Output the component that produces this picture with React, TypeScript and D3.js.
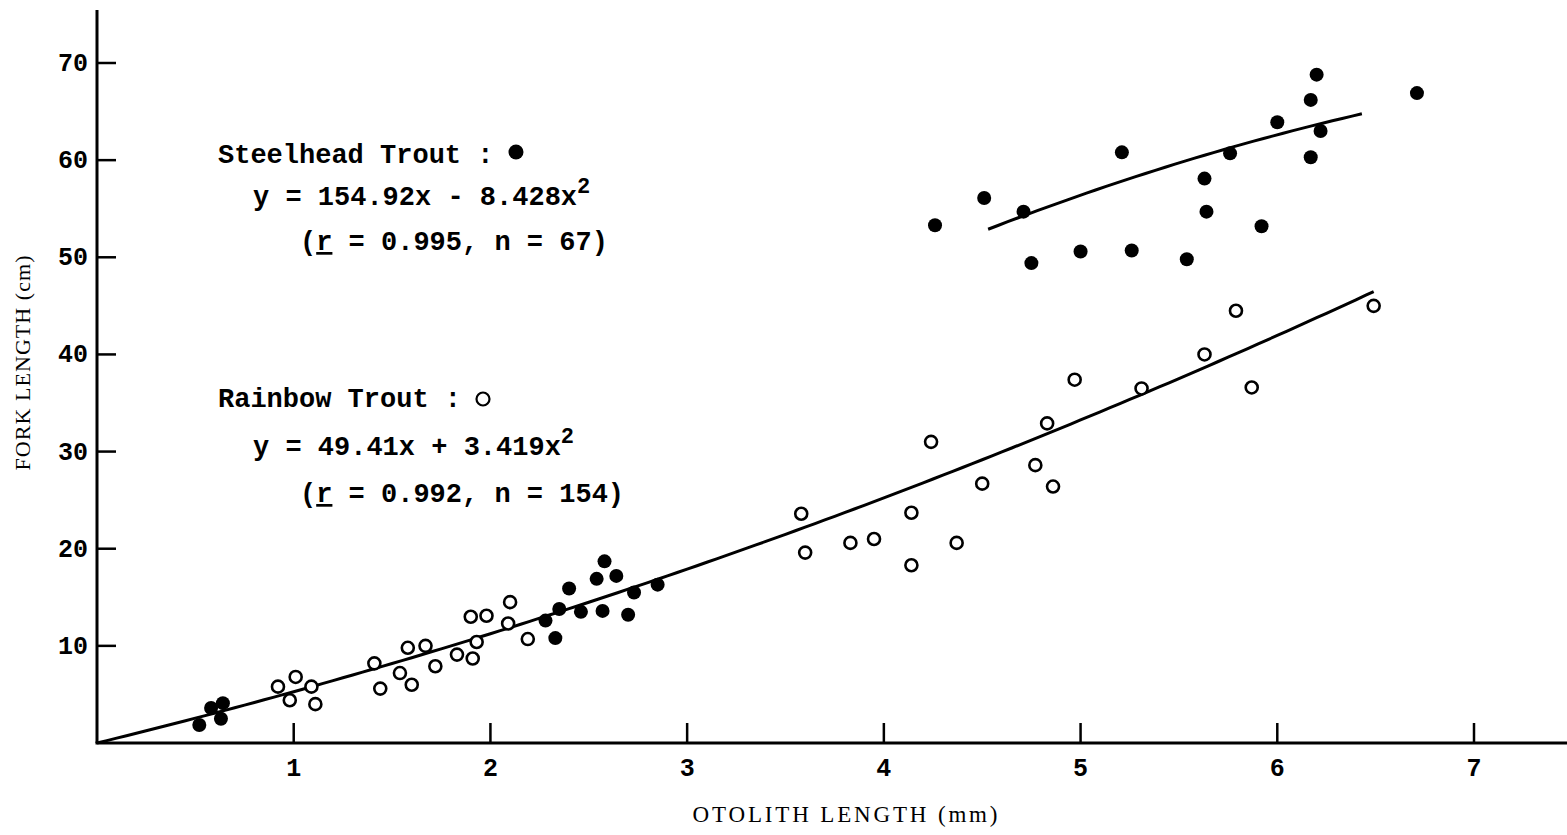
import React from 'react';
import * as d3 from 'd3';

// steelhead trout (filled dots)
const steelheadOtolith = [
  0.52, 0.58, 0.64, 0.63,
  2.28, 2.33, 2.35, 2.4, 2.46, 2.54, 2.57, 2.58, 2.64, 2.7, 2.73, 2.85,
  4.26, 4.51, 4.71, 4.75, 5.0, 5.21, 5.26, 5.54, 5.63, 5.64, 5.76, 5.92, 6.0, 6.17, 6.17, 6.2, 6.22, 6.71,
];
const steelheadFork = [
  1.85, 3.6, 4.1, 2.5,
  12.6, 10.8, 13.8, 15.9, 13.5, 16.9, 13.6, 18.7, 17.2, 13.2, 15.5, 16.3,
  53.3, 56.1, 54.7, 49.4, 50.6, 60.8, 50.7, 49.8, 58.1, 54.7, 60.7, 53.2, 63.9, 66.2, 60.3, 68.8, 63.0, 66.9,
];

// rainbow trout (open circles)
const rainbowOtolith = [
  0.92, 1.01, 1.09, 0.98, 1.11, 1.41, 1.44, 1.58, 1.67, 1.54, 1.6, 1.72, 1.83, 1.91, 1.93, 1.9, 1.98, 2.1, 2.09, 2.19,
  3.58, 3.6, 3.83, 3.95, 4.14, 4.14, 4.24, 4.37, 4.5, 4.83, 4.77, 4.86, 4.97, 5.31, 5.63, 5.79, 5.87, 6.49,
];
const rainbowFork = [
  5.8, 6.8, 5.8, 4.4, 4.0, 8.2, 5.6, 9.8, 10.0, 7.2, 6.0, 7.9, 9.1, 8.7, 10.4, 13.0, 13.1, 14.5, 12.3, 10.7,
  23.6, 19.6, 20.6, 21.0, 23.7, 18.3, 31.0, 20.6, 26.7, 32.9, 28.6, 26.4, 37.4, 36.5, 40.0, 44.5, 36.6, 45.0,
];

// printed regressions, fork length in mm from otolith length in mm
const steelheadCoef = [154.92, -8.428];
const steelheadFitRange = [4.53, 6.43];
const rainbowCoef = [49.41, 3.419];
const rainbowFitRange = [0, 6.49];

const xTicks = [1, 2, 3, 4, 5, 6, 7];
const yTicks = [10, 20, 30, 40, 50, 60, 70];

const W = 1567;
const H = 835;
const mono = '"Liberation Mono", "DejaVu Sans Mono", monospace';
const serif = '"Liberation Serif", "DejaVu Serif", serif';

export default function App() {
  const x = d3.scaleLinear().domain([0, 7]).range([97, 1474]);
  const y = d3.scaleLinear().domain([0, 70]).range([743, 63]);

  // fitted curve in cm
  const fit = (coef: number[], range: number[]) => {
    const xs = d3.range(range[0], range[1], 0.05).concat([range[1]]);
    const line = d3
      .line<number>()
      .x((d) => x(d))
      .y((d) => y((coef[0] * d + coef[1] * d * d) / 10));
    return line(xs) || '';
  };

  return (
    <svg
      width={W}
      height={H}
      style={{ position: 'absolute', left: 0, top: 0, background: '#fff' }}
    >
      {/* axes */}
      <line x1={97} y1={10} x2={97} y2={743} stroke="#000" strokeWidth={3} />
      <line x1={95.5} y1={743} x2={W} y2={743} stroke="#000" strokeWidth={3} />
      {yTicks.map((t) => (
        <g key={'y' + t}>
          <line x1={97} x2={116} y1={y(t)} y2={y(t)} stroke="#000" strokeWidth={2.5} />
          <text
            x={88}
            y={y(t) + 8}
            textAnchor="end"
            fontFamily={mono}
            fontWeight="bold"
            fontSize={25}
          >
            {t}
          </text>
        </g>
      ))}
      {xTicks.map((t) => (
        <g key={'x' + t}>
          <line x1={x(t)} x2={x(t)} y1={743} y2={723} stroke="#000" strokeWidth={2.5} />
          <text
            x={x(t)}
            y={776}
            textAnchor="middle"
            fontFamily={mono}
            fontWeight="bold"
            fontSize={25}
          >
            {t}
          </text>
        </g>
      ))}
      <text
        x={845}
        y={822}
        textAnchor="middle"
        fontFamily={serif}
        fontSize={23}
        textLength={305}
        lengthAdjust="spacing"
      >
        OTOLITH LENGTH (mm)
      </text>
      <text
        transform="translate(30,363) rotate(-90)"
        textAnchor="middle"
        fontFamily={serif}
        fontSize={22}
        textLength={215}
        lengthAdjust="spacing"
      >
        FORK LENGTH (cm)
      </text>

      {/* fitted curves */}
      <path d={fit(rainbowCoef, rainbowFitRange)} fill="none" stroke="#000" strokeWidth={3} />
      <path d={fit(steelheadCoef, steelheadFitRange)} fill="none" stroke="#000" strokeWidth={3} />

      {/* points */}
      {rainbowOtolith.map((d, i) => (
        <circle
          key={'r' + i}
          cx={x(d)}
          cy={y(rainbowFork[i])}
          r={6}
          fill="#fff"
          stroke="#000"
          strokeWidth={2.6}
        />
      ))}
      {steelheadOtolith.map((d, i) => (
        <circle key={'s' + i} cx={x(d)} cy={y(steelheadFork[i])} r={7} fill="#000" />
      ))}

      {/* legend text */}
      <g fontFamily={mono} fontWeight="bold" fontSize={27}>
        <text x={218} y={163}>Steelhead Trout :</text>
        <circle cx={516} cy={152} r={7.5} fill="#000" />
        <text x={253} y={205}>
          y = 154.92x - 8.428x
          <tspan dy={-12} fontSize={22}>2</tspan>
        </text>
        <text x={300} y={250}>
          (<tspan textDecoration="underline">r</tspan> = 0.995, n = 67)
        </text>

        <text x={218} y={407}>Rainbow Trout :</text>
        <circle cx={483} cy={399} r={6.5} fill="none" stroke="#000" strokeWidth={2.2} />
        <text x={253} y={455}>
          y = 49.41x + 3.419x
          <tspan dy={-12} fontSize={22}>2</tspan>
        </text>
        <text x={300} y={502}>
          (<tspan textDecoration="underline">r</tspan> = 0.992, n = 154)
        </text>
      </g>
    </svg>
  );
}
